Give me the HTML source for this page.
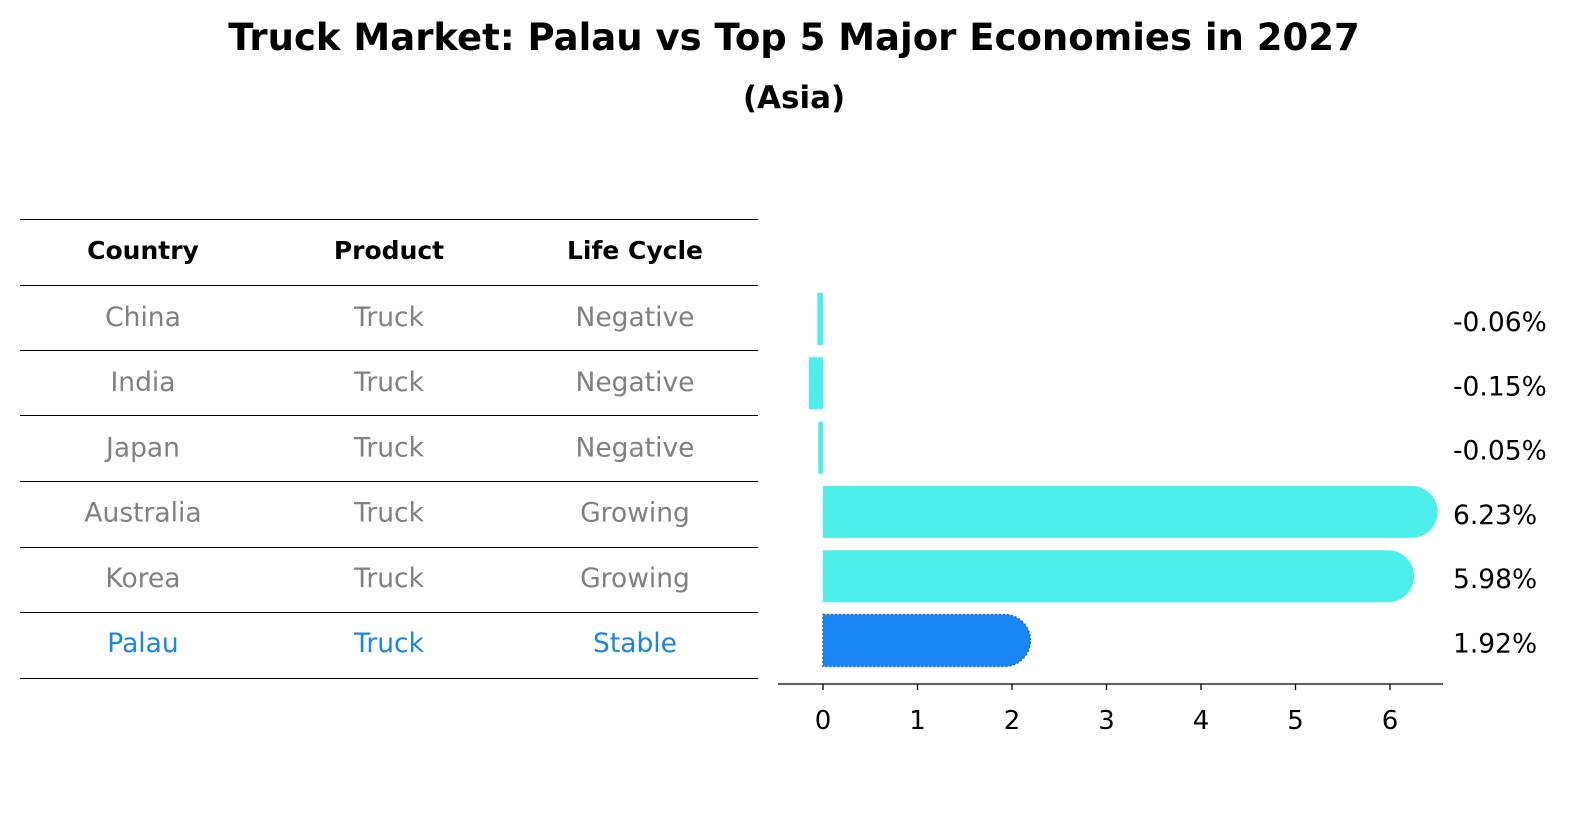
<!DOCTYPE html>
<html><head><meta charset="utf-8"><style>
body{margin:0;background:#fff;font-family:"Liberation Sans","DejaVu Sans",sans-serif}
</style></head><body>
<svg width="1596" height="823" viewBox="0 0 1596 823" xmlns="http://www.w3.org/2000/svg" font-family="DejaVu Sans, Liberation Sans, sans-serif">
<text x="794" y="50" text-anchor="middle" font-size="37" font-weight="bold">Truck Market: Palau vs Top 5 Major Economies in 2027</text>
<text x="794" y="108" text-anchor="middle" font-size="31" font-weight="bold">(Asia)</text>
<g id="table"></g>
<g id="bars"></g>
</svg>
<script>
const countries=["China","India","Japan","Australia","Korea","Palau"];
const products=["Truck","Truck","Truck","Truck","Truck","Truck"];
const cycles=["Negative","Negative","Negative","Growing","Growing","Stable"];
const values=[-0.06,-0.15,-0.05,6.23,5.98,1.92];
const ticks=[0,1,2,3,4,5,6];
const NS="http://www.w3.org/2000/svg";
function mk(t,a,p){const e=document.createElementNS(NS,t);for(const k in a)e.setAttribute(k,a[k]);p.appendChild(e);return e;}
const tbl=document.getElementById('table'),bars=document.getElementById('bars');
const lineY=[219.5,285.5,350.5,415.5,481.5,547.5,612.5,678.5];
lineY.forEach(y=>{const l=mk('line',{x1:20,x2:758,y1:y,y2:y,stroke:'#000','stroke-width':1},tbl);

});
const colX=[143,389,635];
["Country","Product","Life Cycle"].forEach((h,i)=>{const t=mk('text',{x:colX[i],y:259,'text-anchor':'middle','font-size':25,'font-weight':'bold'},tbl);t.textContent=h;

});
const rowY=i=>326+i*65.2;
countries.forEach((c,i)=>{const col=i===5?'#1a86e0':'#808080';
[c,products[i],cycles[i]].forEach((v,j)=>{const t=mk('text',{x:colX[j],y:rowY(i),'text-anchor':'middle','font-size':26.5,fill:col},tbl);t.textContent=v;

});});
const x0=823,sc=94.5;const X=v=>x0+v*sc;
const barY=i=>319+i*64.3,bh=52;
const ax=mk('line',{x1:778,x2:1443,y1:684,y2:684,stroke:'#000','stroke-width':1.3},bars);


ticks.forEach(t=>{const l=mk('line',{x1:X(t),x2:X(t),y1:684,y2:690,stroke:'#000','stroke-width':1.3},bars);


const tx=mk('text',{x:X(t),y:729,'text-anchor':'middle','font-size':26},bars);tx.textContent=t;

});
values.forEach((v,i)=>{const cy=barY(i),top=cy-bh/2;const pal=i===5;const fill=pal?'#1a86f5':'#4eeeea';let e;
if(v>=0){const r=bh/2,x1=X(0),x2=X(v);
e=mk('path',{d:`M${x1},${top} L${x2},${top} A${r},${r} 0 0 1 ${x2},${top+bh} L${x1},${top+bh} Z`,fill:fill},bars);
if(pal){e.setAttribute('stroke','#2a60c0');e.setAttribute('stroke-dasharray','2,2');e.setAttribute('stroke-width','1.5');}}
else{e=mk('rect',{x:X(v),y:top,width:X(0)-X(v),height:bh,fill:fill},bars);}


const t=mk('text',{x:1453,y:cy+12,'font-size':26.5},bars);t.textContent=v.toFixed(2)+'%';

});
</script>
</body></html>
